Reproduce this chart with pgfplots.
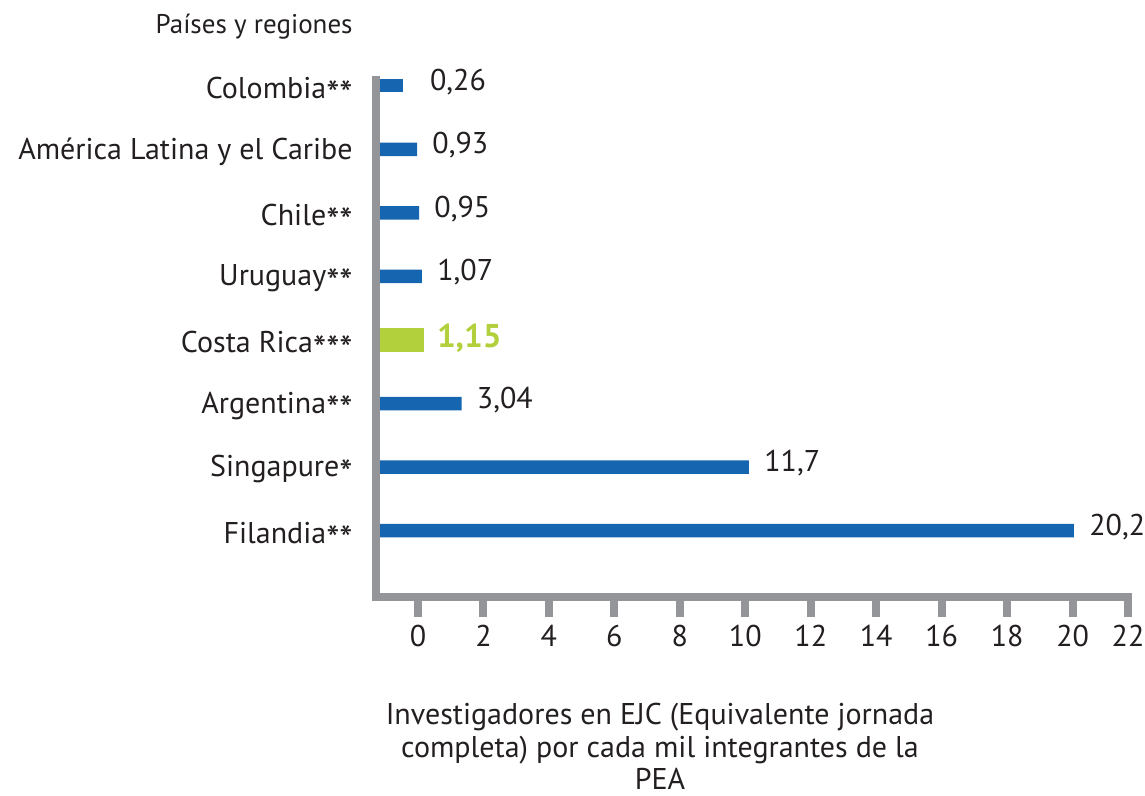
\documentclass[border=0pt]{standalone}
\usepackage{pgfplots}
\pgfplotsset{compat=1.18}
\usepackage{fontspec}
\setmainfont{PT Sans}
\definecolor{barblue}{HTML}{1565B0}
\definecolor{bargreen}{HTML}{B2D03C}
\definecolor{axisgrey}{HTML}{939598}
\definecolor{txt}{HTML}{231F20}
\newcommand{\as}{\smash{\raisebox{-0.32em}{\scalebox{1.25}{*}}}}
\begin{document}
\begin{tikzpicture}
\begin{axis}[
  at={(0pt,0pt)}, anchor=south west,
  scale only axis, width=375.75pt, height=258.75pt,
  xmin=0, xmax=22.96, ymin=-1.05, ymax=7.09,
  clip=false, axis on top,
  axis x line=bottom, axis y line=left,
  axis line style={-, line width=4pt, axisgrey, line cap=rect},
  tick align=outside,
  major tick length=9.75pt,
  xtick={1.268,3.268,5.268,7.268,9.268,11.268,13.268,15.268,17.268,19.268,21.268,22.96},
  xticklabels={0,2,4,6,8,10,12,14,16,18,20,22},
  xtick style={axisgrey, line width=4pt},
  ytick={0,1,2,3,4,5,6,7},
  yticklabels={Filandia\as\as, Singapure\as, Argentina\as\as, Costa Rica\as\as\as, Uruguay\as\as, Chile\as\as, América Latina y el Caribe, Colombia\as\as},
  ytick style={draw=none},
  tick label style={font=\fontsize{15}{18}\selectfont, text=txt},
  xticklabel style={inner sep=0pt, yshift=-4pt},
  yticklabel style={inner sep=0pt, xshift=-2pt, yshift=-1pt},
  /pgf/number format/assume math mode=true,
]
% bar right ends, in axis units from the left axis line
\addplot[xbar, bar shift=0pt, bar width=6.75pt, fill=barblue, draw=none,
  point meta=explicit symbolic, nodes near coords,
  nodes near coords style={anchor=west, inner sep=0pt, xshift=7.5pt, yshift=2pt,
    font=\fontsize{15}{18}\selectfont, text=txt}]
  table[x=x, y=y, meta=lab, row sep=\\] {
  x y lab \\
  21.31 0 {20,2} \\
  11.38 1 {11,7} \\
  2.60 2 {3,04} \\
  1.39 4 {1,07} \\
  1.30 5 {0,95} \\
  1.24 6 {0,93} \\
  };
\addplot[xbar, bar shift=0pt, bar width=6.75pt, fill=barblue, draw=none,
  point meta=explicit symbolic, nodes near coords,
  nodes near coords style={anchor=west, inner sep=0pt, xshift=13.5pt, yshift=2pt,
    font=\fontsize{15}{18}\selectfont, text=txt}]
  table[x=x, y=y, meta=lab, row sep=\\] {
  x y lab \\
  0.80 7 {0,26} \\
  };
\addplot[xbar, bar shift=0pt, bar width=11.75pt, fill=bargreen, draw=none,
  point meta=explicit symbolic, nodes near coords,
  nodes near coords style={anchor=west, inner sep=0pt, xshift=6.5pt, yshift=1pt,
    font=\fontsize{16.5}{20}\selectfont\bfseries, text=bargreen}]
  table[x=x, y=y, meta=lab, row sep=\\] {
  x y lab \\
  1.44 3 {1,15} \\
  };
\end{axis}
\node[anchor=east, inner sep=0pt, font=\fontsize{13.5}{16}\selectfont, text=txt] at (-11.75pt,285.25pt) {Países y regiones};
\node[anchor=north, align=center, inner sep=0pt, font=\fontsize{15}{16.25}\selectfont, text=txt] at (141.75pt,-52.75pt)
  {Investigadores en EJC (Equivalente jornada\\completa) por cada mil integrantes de la\\PEA};
\pgfresetboundingbox
\path[use as bounding box] (-188.25pt,-99.25pt) rectangle (384.25pt,298.75pt);
\end{tikzpicture}
\end{document}
